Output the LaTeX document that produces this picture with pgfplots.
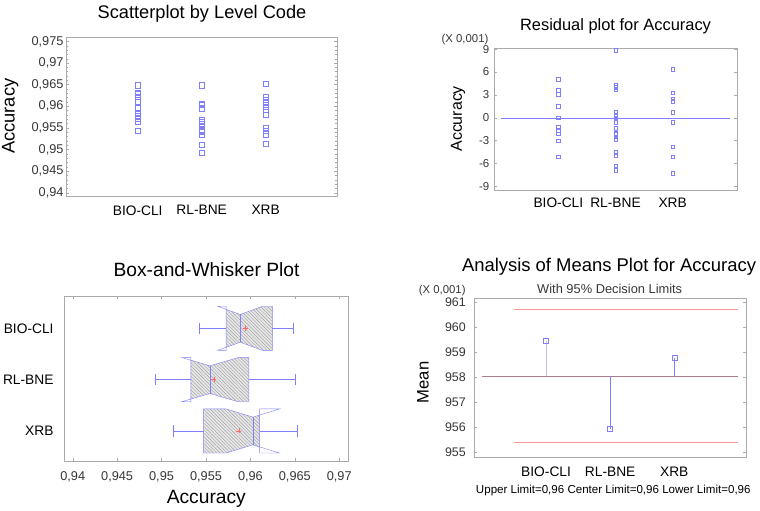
\documentclass[border=0pt]{standalone}
\usepackage{fontspec}
\setmainfont{Liberation Sans}
\usepackage{pgfplots}
\pgfplotsset{compat=1.18}
\usetikzlibrary{patterns.meta}

\definecolor{ptblue}{RGB}{128,128,255}
\definecolor{limred}{RGB}{255,150,150}
\definecolor{ctrline}{RGB}{175,125,135}
\definecolor{framegray}{RGB}{170,170,170}
\definecolor{txtgray}{RGB}{55,55,55}

\newcommand{\fs}[1]{\fontsize{#1}{#1}\selectfont}

\pgfplotsset{
  sg/.style={scale only axis, anchor=north west,
    axis line style={framegray},
    every tick/.style={framegray, thin},
    tick align=inside, major tick length=3bp, minor tick length=2bp,
    /pgf/number format/assume math mode=true,
    /pgf/number format/use comma,
    tick label style={text=txtgray}},
  hatchfill/.style={draw=none, fill=gray!18},
  hatchlines/.style={draw=none, pattern={Lines[angle=-45, distance=2.4bp, line width=0.45bp]}, pattern color=gray!75},
}

\begin{document}
\begin{tikzpicture}
\path[use as bounding box] (0,0) rectangle (760bp,-511bp);

% ---------- Scatterplot by Level Code
\node[anchor=base] at (202bp,-18bp) {\fs{18.3}Scatterplot by Level Code};
\node[rotate=90] at (10.3bp,-116.2bp) {\fs{18.4}Accuracy};
\begin{axis}[sg, at={(66bp,-37bp)}, width=271.3bp, height=159bp,
  xmin=-0.12, xmax=4.12, ymin=0.93924, ymax=0.97602,
  xtick={1,2,3}, xticklabels={BIO-CLI,RL-BNE,XRB},
  major x tick style={draw=none},
  ytick={0.94,0.945,0.95,0.955,0.96,0.965,0.97,0.975},
  minor y tick num=4, scaled y ticks=false,
  yticklabel style={/pgf/number format/precision=3, font=\fs{12.8}, xshift=1bp},
  xticklabel style={font=\fs{13.8}, text=black, yshift=-6bp}]
\addplot[only marks, mark=square, mark size=2.6bp, ptblue] coordinates {
 (1,0.96486) (1,0.96316) (1,0.96278) (1,0.96216) (1,0.96108) (1,0.95954)
 (1,0.95853) (1,0.95823) (1,0.95783) (1,0.95723) (1,0.95643) (1,0.95433)
 (2,0.96486) (2,0.96062) (2,0.96031) (2,0.95954) (2,0.95676) (2,0.95645)
 (2,0.95599) (2,0.95545) (2,0.95444) (2,0.95414) (2,0.95336) (2,0.95120) (2,0.94927)
 (3,0.96523) (3,0.96223) (3,0.96143) (3,0.96083) (3,0.95983) (3,0.95913)
 (3,0.95813) (3,0.95503) (3,0.95433) (3,0.95353) (3,0.95133)};
\end{axis}

% ---------- Residual plot
\node[anchor=base] at (615.5bp,-30bp) {\fs{16.5}Residual plot for Accuracy};
\node[anchor=base, text=txtgray] at (465bp,-42.8bp) {\fs{11.4}(X 0,001)};
\node[rotate=90] at (458bp,-118.8bp) {\fs{16}Accuracy};
\begin{axis}[sg, at={(494.3bp,-47.7bp)}, width=242.4bp, height=142.3bp,
  xmin=-0.12, xmax=4.12, ymin=-9.5, ymax=9.2,
  xtick={1,2,3}, xticklabels={BIO-CLI,RL-BNE,XRB},
  major x tick style={draw=none},
  ytick={-9,-6,-3,0,3,6,9},
  yticklabel style={font=\fs{11.5}, xshift=-1.5bp},
  xticklabel style={font=\fs{13.8}, text=black, yshift=-4.7bp}]
\addplot[ptblue] coordinates {(0,0) (4,0)};
\addplot[only marks, mark=square, mark size=1.8bp, ptblue] coordinates {
 (1,5.1) (1,3.6) (1,3.1) (1,1.5) (1,0.0) (1,-1.2) (1,-1.7) (1,-2.1) (1,-3.0) (1,-5.1)
 (2,8.9) (2,4.3) (2,4.0) (2,3.7) (2,0.7) (2,0.3) (2,0.0) (2,-0.6) (2,-1.4)
 (2,-2.0) (2,-2.2) (2,-2.5) (2,-2.8) (2,-4.5) (2,-4.9) (2,-6.3) (2,-6.9)
 (3,6.4) (3,3.3) (3,2.5) (3,2.2) (3,0.7) (3,-0.6) (3,-3.8) (3,-5.1) (3,-7.3)};
\end{axis}

% ---------- Box-and-Whisker Plot
\node[anchor=base] at (206.5bp,-276bp) {\fs{19.3}Box-and-Whisker Plot};
\node[anchor=base] at (206.3bp,-503.3bp) {\fs{19.3}Accuracy};
\begin{axis}[sg, at={(64bp,-296bp)}, width=283.7bp, height=165bp,
  xmin=0.93902, xmax=0.97095, ymin=0.415, ymax=3.63,
  ytick={1,2,3}, yticklabels={XRB,RL-BNE,BIO-CLI},
  major y tick style={draw=none},
  xtick={0.94,0.945,0.95,0.955,0.96,0.965,0.97}, scaled x ticks=false,
  xticklabel style={/pgf/number format/precision=3, font=\fs{12.8}, yshift=-7bp},
  yticklabel style={font=\fs{13.8}, text=black, xshift=-7bp}]
% hatched fill (box clipped by notch)
\addplot[hatchfill] coordinates {(0.95726,3.3706) (0.95885,3.27) (0.96138,3.43) (0.96247,3.43) (0.96247,2.57) (0.96138,2.57) (0.95885,2.73) (0.95726,2.6294)} -- cycle;
\addplot[hatchlines] coordinates {(0.95726,3.3706) (0.95885,3.27) (0.96138,3.43) (0.96247,3.43) (0.96247,2.57) (0.96138,2.57) (0.95885,2.73) (0.95726,2.6294)} -- cycle;
\addplot[hatchfill] coordinates {(0.9533,2.3785) (0.95545,2.27) (0.95862,2.43) (0.95983,2.43) (0.95983,1.57) (0.95862,1.57) (0.95545,1.73) (0.9533,1.6215)} -- cycle;
\addplot[hatchlines] coordinates {(0.9533,2.3785) (0.95545,2.27) (0.95862,2.43) (0.95983,2.43) (0.95983,1.57) (0.95862,1.57) (0.95545,1.73) (0.9533,1.6215)} -- cycle;
\addplot[hatchfill] coordinates {(0.95474,1.43) (0.95726,1.43) (0.96028,1.27) (0.96104,1.3103) (0.96104,0.6897) (0.96028,0.73) (0.95726,0.57) (0.95474,0.57)} -- cycle;
\addplot[hatchlines] coordinates {(0.95474,1.43) (0.95726,1.43) (0.96028,1.27) (0.96104,1.3103) (0.96104,0.6897) (0.96028,0.73) (0.95726,0.57) (0.95474,0.57)} -- cycle;
% outlines: Q1,T nl,T md,IT nh,T Q3,T Q3,B nh,B md,IB nl,B Q1,B
\addplot[ptblue] coordinates {(0.95726,3.43) (0.95632,3.43) (0.95885,3.27) (0.96138,3.43) (0.96247,3.43) (0.96247,2.57) (0.96138,2.57) (0.95885,2.73) (0.95632,2.57) (0.95726,2.57)} -- cycle;
\addplot[ptblue] coordinates {(0.9533,2.43) (0.95228,2.43) (0.95545,2.27) (0.95862,2.43) (0.95983,2.43) (0.95983,1.57) (0.95862,1.57) (0.95545,1.73) (0.95228,1.57) (0.9533,1.57)} -- cycle;
\addplot[ptblue] coordinates {(0.95474,1.43) (0.95726,1.43) (0.96028,1.27) (0.9633,1.43) (0.96104,1.43) (0.96104,0.57) (0.9633,0.57) (0.96028,0.73) (0.95726,0.57) (0.95474,0.57)} -- cycle;
% medians
\addplot[ptblue, thick] coordinates {(0.95885,3.27) (0.95885,2.73)};
\addplot[ptblue, thick] coordinates {(0.95545,2.27) (0.95545,1.73)};
\addplot[ptblue, thick] coordinates {(0.96028,1.27) (0.96028,0.73)};
% whiskers and caps
\addplot[ptblue] coordinates {(0.95425,3) (0.95726,3)};
\addplot[ptblue] coordinates {(0.96247,3) (0.96481,3)};
\addplot[ptblue] coordinates {(0.95425,2.89) (0.95425,3.11)};
\addplot[ptblue] coordinates {(0.96481,2.89) (0.96481,3.11)};
\addplot[ptblue] coordinates {(0.94925,2) (0.9533,2)};
\addplot[ptblue] coordinates {(0.95983,2) (0.96500,2)};
\addplot[ptblue] coordinates {(0.94925,1.89) (0.94925,2.11)};
\addplot[ptblue] coordinates {(0.96500,1.89) (0.96500,2.11)};
\addplot[ptblue] coordinates {(0.95131,1) (0.95474,1)};
\addplot[ptblue] coordinates {(0.96104,1) (0.96526,1)};
\addplot[ptblue] coordinates {(0.95131,0.89) (0.95131,1.11)};
\addplot[ptblue] coordinates {(0.96526,0.89) (0.96526,1.11)};
% means
\addplot[only marks, mark=+, mark size=2.5bp, red!60] coordinates {(0.95945,3) (0.95587,2) (0.95870,1)};
\end{axis}

% ---------- Analysis of Means Plot
\node[anchor=base] at (609bp,-271.7bp) {\fs{18.5}Analysis of Means Plot for Accuracy};
\node[anchor=base, text=txtgray] at (609.7bp,-293.3bp) {\fs{12.9}With 95\% Decision Limits};
\node[anchor=base, text=txtgray] at (442.2bp,-293.3bp) {\fs{11.4}(X 0,001)};
\node[rotate=90] at (423bp,-382.5bp) {\fs{16.7}Mean};
\node[anchor=base] at (613.3bp,-493.3bp) {\fs{11.6}Upper Limit=0,96 Center Limit=0,96 Lower Limit=0,96};
\begin{axis}[sg, at={(474.3bp,-297.7bp)}, width=271.7bp, height=159bp,
  xmin=-0.12, xmax=4.12, ymin=954.82, ymax=961.18,
  xtick={1,2,3}, xticklabels={BIO-CLI,RL-BNE,XRB},
  major x tick style={draw=none},
  ytick={955,956,957,958,959,960,961},
  yticklabel style={font=\fs{12.5}, xshift=-5bp},
  xticklabel style={font=\fs{13.8}, text=black, yshift=-7bp}]
\addplot[limred] coordinates {(0.5,960.72) (4,960.72)};
\addplot[limred] coordinates {(0.5,955.40) (4,955.40)};
\addplot[ctrline] coordinates {(0,958.04) (4,958.04)};
\addplot[ptblue!50] coordinates {(1,958.04) (1,959.46)};
\addplot[ptblue] coordinates {(2,958.04) (2,955.94)};
\addplot[ptblue] coordinates {(3,958.04) (3,958.77)};
\addplot[only marks, mark=square, mark size=2.5bp, ptblue] coordinates {(1,959.46) (2,955.94) (3,958.77)};
\end{axis}
\end{tikzpicture}
\end{document}
